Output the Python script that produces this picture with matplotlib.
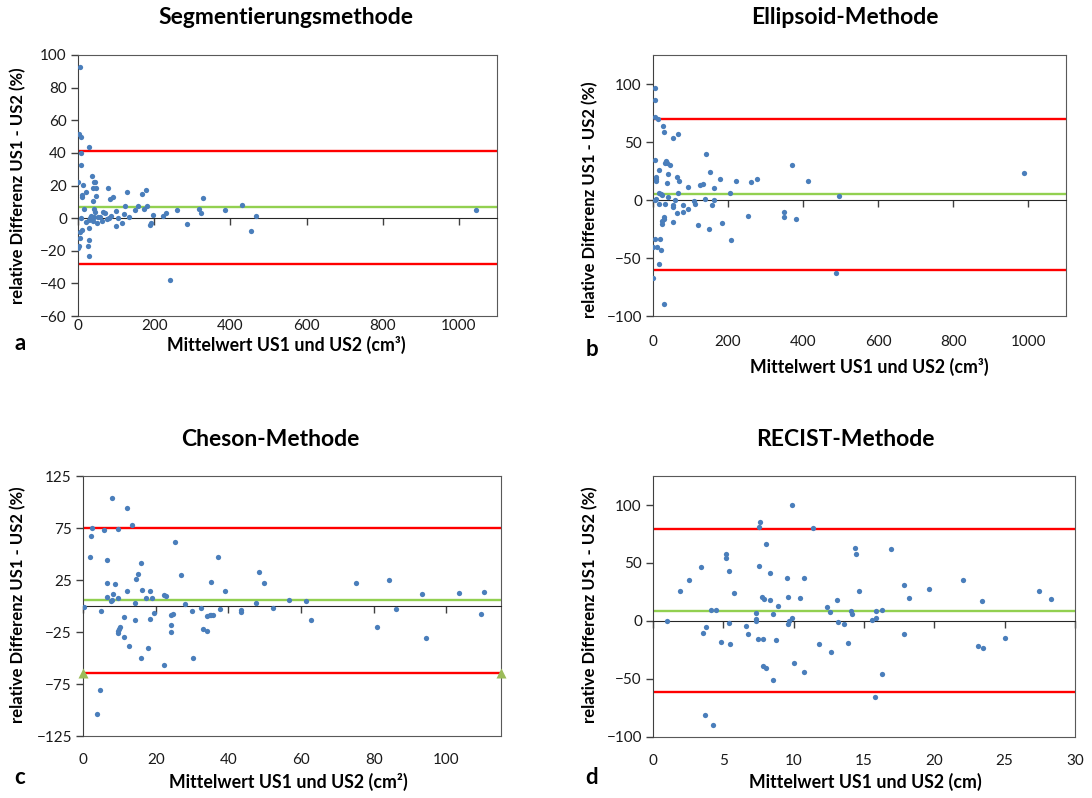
import numpy as np
import matplotlib
matplotlib.use("Agg")
import matplotlib.pyplot as plt

plt.rcParams['font.family'] = ['Lato', 'DejaVu Sans']

# --- Daten ---------------------------------------------------------------
seg_x = [5, 3, 8, 28, 8, 8, 36, 1, 14, 41, 44, 46, 39, 10, 10, 20, 47, 39, 17, 41,
         44, 79, 83, 92, 128, 168, 179, 124, 157, 173, 182, 150, 99, 122, 134, 197, 224, 232, 261, 317,
         324, 328, 386, 431, 467, 454, 285, 191, 188, 241, 8, 22, 28, 31, 34, 37, 40, 42, 50, 52,
         57, 63, 66, 72, 76, 82, 86, 101, 104, 116, 4, 11, 30, 4, 30, 1, 2, 25, 30, 1046]
seg_y = [92.6, 51.8, 50, 43.9, 40, 32.8, 26, 21.9, 20.3, 22, 22, 18.2, 18.6, 14.3, 13.1, 16, 13.5, 10.5, 5.7, 5.7,
         3.7, 18.2, 11.9, 13.1, 16.2, 14.5, 17.2, 7.2, 7.6, 5.7, 7.2, 5.1, 4.1, 2.5, 0.4, 2, 1, 2.9, 5.1, 5.7,
         3.1, 12.5, 4.7, 8.2, 1, -7.8, -3.5, -3.1, -4.3, -38.1, 0, -2.3, -1, 0, 1, -0.5, -1.5, 0.5, -2.7, 0.6,
         0.6, -2, 3.5, 3.1, -0.6, 0.2, 1.2, -5.1, 0, -2.7, -8.6, -7, -6.1, -12.3, -13.5, -18.2, -16.8, -16.8, -23, 5.1]

ell_x = [6, 4, 4, 12, 27, 28, 54, 66, 140, 6, 34, 32, 37, 45, 15, 153, 40, 8, 8, 8,
         63, 68, 38, 94, 126, 132, 178, 163, 221, 260, 276, 370, 413, 205, 17, 22, 25, 66, 41, 4,
         7, 16, 31, 59, 138, 163, 53, 52, 81, 108, 113, 92, 79, 63, 157, 29, 28, 24, 25, 52,
         121, 148, 185, 254, 348, 349, 380, 207, 6, 18, 1, 10, 20, 16, 1, 28, 487, 496, 987]
ell_y = [96.8, 85.9, 71.5, 69.7, 63.7, 58.8, 53.3, 56.5, 39.5, 34.6, 33.7, 31.7, 32, 30, 25.6, 24.2, 22.8, 19.6, 17.9, 16.1,
         19.9, 16.4, 14.7, 11, 13, 13.8, 17.9, 10.4, 16.1, 15.6, 18.4, 30, 16.7, 6.3, 5.8, 4.9, 4.3, 5.8, 2.6, 0,
         0.5, -3.2, -3.2, 0, 0.6, 0, -4.6, -5.8, -4.3, -1.2, -3.2, -8.1, -10.4, -11.2, -4.3, -14.4, -16.1, -18.4, -21, -19,
         -21.9, -24.8, -19.9, -13.8, -10.1, -14.7, -16.1, -34.6, -33.7, -33.7, -40.3, -40.3, -43.2, -54.8, -66.9, -89.9, -62.8, 3.1, 23]

che_x = [8.1, 12.2, 2.4, 5.7, 9.6, 13.6, 2.2, 2.0, 6.6, 15.9, 25.4, 37.2, 15.2, 14.6, 26.9, 6.7, 8.7, 48.3, 49.7, 35.2,
         12.2, 16.1, 18.3, 39.2, 8.3, 6.6, 7.6, 8.0, 9.6, 14.3, 17.3, 19.0, 22.2, 22.8, 47.6, 56.6, 0.3, 5.0, 28.1, 29.9,
         32.5, 37.6, 43.4, 43.4, 52.2, 19.4, 18.3, 11.3, 14.3, 24.3, 24.8, 24.3, 24.3, 34.1, 34.9, 35.3, 35.8, 33.0, 34.0, 10.1,
         9.9, 9.7, 9.6, 11.3, 12.7, 17.8, 15.9, 22.3, 30.4, 4.8, 3.9, 61.3, 62.8, 75.2, 81.0, 84.3, 86.1, 93.2, 94.5, 103.4,
         110.2, 109.5]
che_y = [103.5, 94.6, 75, 72.8, 74, 77.6, 67, 47.4, 44.2, 41, 61.2, 47.4, 30.4, 26.3, 29.5, 22.1, 21.2, 32.7, 22.1, 23.1,
         14.1, 15.7, 14.7, 14.1, 11.5, 8.3, 5.1, 5.4, 7.4, 3.2, 7.7, 7.4, 10.9, 9.9, 2.6, 5.8, -1, -4.8, 1.6, -4.8,
         -2.2, -2.9, -3.8, -5.4, -2.2, -7, -12.2, -10.3, -13.8, -8.3, -7.4, -17.9, -25.3, -9.3, -8.3, -8.7, -9, -21.8, -24.4, -19.9,
         -22.1, -24.4, -25.6, -30.1, -38.1, -40.7, -49.7, -57, -50.3, -80.4, -103.5, 4.8, -13.8, 22.1, -20.5, 25.3, -2.6, 11.5, -31, 12.2,
         13.2, -8]

rec_x = [0.97, 1.92, 2.54, 3.44, 3.55, 3.74, 3.67, 4.29, 4.15, 4.48, 4.81, 5.19, 5.19, 5.43, 5.78, 5.43, 5.47, 6.64, 6.75, 7.3,
         7.3, 7.35, 7.46, 7.84, 7.54, 7.54, 7.6, 7.77, 7.9, 8.32, 8.06, 8.32, 8.5, 8.9, 8.74, 7.8, 8.0, 8.55, 9.5, 9.57,
         9.88, 9.57, 9.67, 9.9, 10.0, 10.47, 10.7, 10.76, 11.37, 11.8, 12.4, 12.58, 12.65, 13.06, 13.13, 13.55, 13.84, 14.08, 14.15, 14.38,
         14.45, 14.64, 16.92, 15.85, 16.25, 15.54, 15.85, 17.82, 18.17, 19.62, 22.03, 23.36, 27.46, 28.29, 17.82, 23.13, 23.48, 25.05, 16.3, 15.78]
rec_y = [0, 25.9, 35.3, 46.3, -10.6, -4.9, -80.7, -89.7, 9.8, 9.2, -18.1, 58, 54.3, 42.8, 24.4, -2, -19.5, -4, -11.5, 7.2,
         1.4, 0, -15.8, -15.2, 47.7, 81, 85, 20.7, 19, 18.4, 66.7, 41.7, 6, 12.6, -16.7, -39.1, -40.8, -50.9, 36.8, 20.7,
         99.7, -2.9, 0, 2.6, -36.2, 20.1, 36.8, -44.3, 80.5, -19.5, 12.1, 7.5, -26.7, 18.4, -0.6, -2.6, -18.7, 8.3, 6, 63.2,
         58, 25.9, 62.4, 8.4, 9.8, 1.2, 2.6, 31, 20.2, 27.9, 35.3, 17, 25.9, 19.3, -11.5, -21.6, -23, -14.9, -45.7, -65.5]

# Mittelwert, obere und untere Grenze (Bland-Altman)
seg_loa = (6.6, 41, -28)
ell_loa = (5, 70, -60)
che_loa = (5.8, 75, -64)
rec_loa = (9, 79, -61.5)

titles = ["Segmentierungsmethode", "Ellipsoid-Methode", "Cheson-Methode", "RECIST-Methode"]
xlabels = ["Mittelwert US1 und US2 (cm³)", "Mittelwert US1 und US2 (cm³)",
           "Mittelwert US1 und US2 (cm²)", "Mittelwert US1 und US2 (cm)"]
ylabel = "relative Differenz US1 - US2 (%)"
letters = ["a", "b", "c", "d"]

BLUE = '#4a7ebb'
RED = '#ff0000'
GREEN = '#92d050'
BORDER = '#595959'

W, H = 1092, 798
fig = plt.figure(figsize=(W / 100, H / 100), dpi=100)


def px_axes(l, t, r, b):
    return fig.add_axes([l / W, 1 - b / H, (r - l) / W, (b - t) / H])


panels = [
    dict(box=(78, 55, 497, 316), x=seg_x, y=seg_y, loa=seg_loa, xlim=(0, 1100), xt=np.arange(0, 1001, 200),
         ylim=(-60, 100), yt=np.arange(-60, 101, 20), pad=2),
    dict(box=(653, 55, 1066, 316), x=ell_x, y=ell_y, loa=ell_loa, xlim=(0, 1100), xt=np.arange(0, 1001, 200),
         ylim=(-100, 125), yt=np.arange(-100, 101, 50), pad=14),
    dict(box=(83, 476, 501, 736), x=che_x, y=che_y, loa=che_loa, xlim=(0, 115), xt=np.arange(0, 101, 20),
         ylim=(-125, 125), yt=np.arange(-125, 126, 50), pad=12),
    dict(box=(653, 476, 1075, 737), x=rec_x, y=rec_y, loa=rec_loa, xlim=(0, 30), xt=np.arange(0, 31, 5),
         ylim=(-100, 125), yt=np.arange(-100, 101, 50), pad=12),
]

axes = []
for p in panels:
    ax = px_axes(*p['box'])
    axes.append(ax)
    ax.set_xlim(*p['xlim'])
    ax.set_ylim(*p['ylim'])
    m, up, lo = p['loa']
    ax.axhline(up, color=RED, lw=1.7, zorder=2)
    ax.axhline(lo, color=RED, lw=1.7, zorder=2)
    ax.axhline(m, color=GREEN, lw=1.7, zorder=2)
    ax.plot(p['x'], p['y'], 'o', color=BLUE, ms=3.8, mec='none', zorder=3)

    # x-Achse bei y = 0 mit Teilstrichen, Beschriftung unten
    ax.spines['bottom'].set_position(('data', 0))
    ax.spines['bottom'].set_color('#262626')
    ax.set_xticks(p['xt'])
    ax.tick_params(axis='x', direction='out', length=5, width=1, color='#404040', labelbottom=False)
    sec = ax.secondary_xaxis('bottom')
    sec.set_xticks(p['xt'])
    sec.tick_params(length=0, pad=p['pad'], labelsize=11, labelcolor='#1a1a1a')
    sec.spines['bottom'].set_color(BORDER)

    ax.set_yticks(p['yt'])
    ax.tick_params(axis='y', direction='out', length=5, width=1, color='#404040', pad=3,
                   labelsize=11, labelcolor='#1a1a1a')
    ax.spines['left'].set_color('#404040')
    for s in ('top', 'right'):
        ax.spines[s].set_color(BORDER)

# Dreiecke an den Enden der unteren Grenze (Panel c)
axes[2].plot(panels[2]['xlim'], [che_loa[2]] * 2, '^', color='#9bbb59', ms=7, mec='none',
             clip_on=False, zorder=4)

# Texte
title_pos = [(286, 18), (845, 18), (270, 440), (845, 440)]
xlab_pos = [(286, 345), (869, 367), (288, 782), (865, 782)]
ylab_pos = [(18, 186), (590, 200), (18, 605), (590, 605)]
letter_pos = [(20, 343), (592, 350), (20, 778), (592, 778)]

for i in range(4):
    fig.text(title_pos[i][0] / W, 1 - title_pos[i][1] / H, titles[i], ha='center', va='center',
             fontsize=16.5, fontweight='bold', color='#000000')
    fig.text(xlab_pos[i][0] / W, 1 - xlab_pos[i][1] / H, xlabels[i], ha='center', va='center',
             fontsize=12.8, fontweight='bold', color='#000000')
    fig.text(ylab_pos[i][0] / W, 1 - ylab_pos[i][1] / H, ylabel, ha='center', va='center',
             rotation=90, fontsize=12, fontweight='bold', color='#000000')
    fig.text(letter_pos[i][0] / W, 1 - letter_pos[i][1] / H, letters[i], ha='center', va='center',
             fontsize=16, fontweight='bold', color='#000000')

fig.savefig("out.png", dpi=100)
